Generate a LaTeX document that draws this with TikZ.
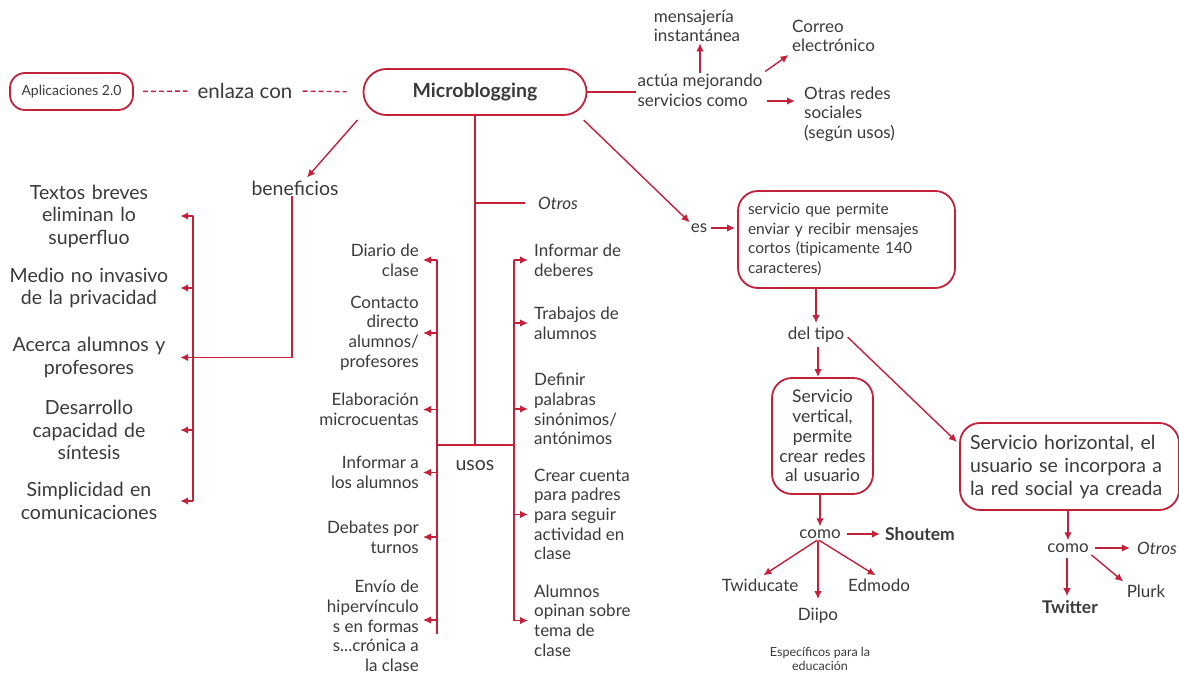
\documentclass[tikz,border=0pt]{standalone}
\usepackage{fontspec}
\setmainfont{Lato}
\usetikzlibrary{arrows.meta, positioning}
\definecolor{mbred}{HTML}{C4203A}
\definecolor{mbtext}{HTML}{3A3A3A}

\tikzset{
    every node/.style={text=mbtext, inner sep=1pt},
    bigtxt/.style={font=\fontsize{19.5}{22.5}\selectfont, align=center},
    midtxt/.style={font=\fontsize{17}{19.7}\selectfont},
    boxtxt/.style={font=\fontsize{15.5}{19.7}\selectfont},
    box/.style={draw=mbred, line width=1.8pt, rounded corners=20pt},
    link/.style={draw=mbred, line width=1.4pt},
    arr/.style={link, -{Latex[length=8pt,width=7.5pt]}},
    dashlink/.style={link, dash pattern=on 5pt off 3pt},
}

\begin{document}
\begin{tikzpicture}[x=1pt, y=-1pt]
    \useasboundingbox (0,0) rectangle (1179,674);

    % top row
    \node[box, rounded corners=15pt, minimum width=123pt, minimum height=37pt,
          font=\fontsize{14}{16}\selectfont] (apl) at (71.5,91.5) {Aplicaciones 2.0};
    \node[bigtxt, font=\fontsize{20.5}{22.5}\selectfont] (enl) at (245,91) {enlaza con};
    \node[box, rounded corners=23pt, minimum width=223pt, minimum height=46pt,
          font=\bfseries\fontsize{19.5}{20}\selectfont] (mb) at (475,92) {Microblogging};
    \node[midtxt, align=left] (act) at (700,90) {actúa mejorando\\servicios como};
    \node[midtxt, align=left] (mens) at (697,26) {mensajería\\instantánea};
    \node[midtxt, align=left, anchor=west] (cor) at (791,36) {Correo\\electrónico};
    \node[midtxt, align=left, anchor=west] (otr) at (803,114) {Otras redes\\sociales\\(según usos)};

    \path[dashlink] (apl.east) edge[shorten <=9pt, shorten >=9pt] (enl.west)
                    (enl.east) edge[shorten <=9pt, shorten >=16pt] (mb.west);
    \draw[link] (mb.east) -- (mb.east -| act.west);
    \draw[arr] (act.north) -- (act.north |- mens.south);
    \draw[arr, shorten <=2pt, shorten >=3pt] (act.north east) -- (cor.south west);
    \draw[arr, shorten <=3pt, shorten >=8pt] ([yshift=-11pt]act.east) -- ([yshift=-11pt]act.east -| otr.west);

    % beneficios
    \node[bigtxt] (ben) at (295,188) {beneficios};
    \coordinate (bsp) at (193,0);
    \node[bigtxt, text width=170pt, inner sep=0pt] (tb)   at (89,216)   {Textos breves\\eliminan lo\\superfluo};
    \node[bigtxt, text width=170pt, inner sep=0pt] (med)  at (89,288)   {Medio no invasivo\\de la privacidad};
    \node[bigtxt, text width=170pt, inner sep=0pt] (acer) at (89,357.5) {Acerca alumnos y\\profesores};
    \node[bigtxt, text width=170pt, inner sep=0pt] (des)  at (89,430)   {Desarrollo\\capacidad de\\síntesis};
    \node[bigtxt, text width=170pt, inner sep=0pt] (simp) at (89,501)   {Simplicidad en\\comunicaciones};

    \draw[arr] ([xshift=-5pt,yshift=-4pt]mb.south west) -- ([xshift=12pt,yshift=2pt]ben.north);
    \draw[link] ([xshift=-3pt]ben.south) |- (acer.east -| bsp);
    \draw[link] (bsp |- tb.east) -- (bsp |- simp.east);
    \foreach \n in {tb, med, acer, des, simp}
        \draw[arr, shorten >=6pt] (\n.east -| bsp) -- (\n.east);

    % usos
    \coordinate (uj) at (475,445);
    \coordinate (lsp) at (437,0);
    \coordinate (rsp) at (514,0);
    \node[bigtxt] (usos) at (475,466) {usos};
    \node[midtxt, font=\itshape\fontsize{17}{19.7}\selectfont] (otros) at (558,203) {Otros};
    \draw[link] (mb.south) -- (uj);
    \draw[link] (mb.south |- otros.west) -- ([xshift=-12pt]otros.west);
    \draw[link] (uj -| lsp) -- (uj -| rsp);

    \node[midtxt, align=right, anchor=east] (dia) at (420,260)   {Diario de\\clase};
    \node[midtxt, align=right, anchor=east] (con) at (420,333)   {Contacto\\directo\\alumnos/\\profesores};
    \node[midtxt, align=right, anchor=east] (ela) at (420,409.5) {Elaboración\\microcuentas};
    \node[midtxt, align=right, anchor=east] (inf) at (420,472.5) {Informar a\\los alumnos};
    \node[midtxt, align=right, anchor=east] (deb) at (420,537)   {Debates por\\turnos};
    \node[midtxt, align=right, anchor=east] (env) at (420,626)   {Envío de\\hipervínculo\\s en formas\\s...crónica a\\la clase};

    \node[midtxt, align=left, anchor=west] (ide) at (533,260)   {Informar de\\deberes};
    \node[midtxt, align=left, anchor=west] (tra) at (533,323)   {Trabajos de\\alumnos};
    \node[midtxt, align=left, anchor=west] (def) at (533,409)   {Definir\\palabras\\sinónimos/\\antónimos};
    \node[midtxt, align=left, anchor=west] (cre) at (533,514.5) {Crear cuenta\\para padres\\para seguir\\actividad en\\clase};
    \node[midtxt, align=left, anchor=west] (alu) at (533,620.5) {Alumnos\\opinan sobre\\tema de\\clase};

    \draw[link] (lsp |- dia.east) -- ([yshift=-8pt]lsp |- env.east);
    \draw[link] (rsp |- ide.west) -- (rsp |- alu.west);
    \foreach \n in {dia, con, ela, inf, deb}
        \draw[arr, shorten >=3pt] (\n.east -| lsp) -- (\n.east);
    \draw[arr, shorten >=3pt] ([yshift=6pt]env.east -| lsp) -- ([yshift=6pt]env.east);
    \foreach \n in {ide, tra, def, cre, alu}
        \draw[arr, shorten >=5pt] (\n.west -| rsp) -- (\n.west);

    % es
    \node[midtxt] (es) at (699,228) {es};
    \node[box, boxtxt, align=left, text width=197pt, inner xsep=10pt, minimum height=97pt]
        (serv) at (846.5,239.5) {servicio que permite\\enviar y recibir mensajes\\cortos (tipicamente 140\\caracteres)};
    \node[midtxt] (tipo) at (816,335) {del tipo};
    \node[box, font=\fontsize{17.5}{19.7}\selectfont, align=center, text width=92pt, inner xsep=4.5pt, minimum height=116pt]
        (vert) at (822.5,436) {Servicio\\vertical,\\permite\\crear redes\\al usuario};
    \node[box, font=\fontsize{19.5}{23}\selectfont, align=left, text width=199pt, inner xsep=10pt, minimum height=87pt]
        (hori) at (1069.5,466.5) {Servicio horizontal, el\\usuario se incorpora a\\la red social ya creada};

    \draw[arr, shorten <=6pt] ([xshift=-8pt]mb.south east) -- (es.north west);
    \draw[arr, shorten <=3pt, shorten >=2pt] (es.east) -- (es.east -| serv.west);
    \draw[arr, shorten >=3pt] (tipo.north |- serv.south) -- (tipo.north);
    \draw[arr, shorten <=3pt] ([xshift=2pt]tipo.south) -- ([xshift=2pt]tipo.south |- vert.north);
    \draw[arr, shorten <=3pt, shorten >=3pt] (tipo.east) -- ([yshift=-22pt]hori.north west);

    % vertical
    \node[midtxt] (como) at (820,534) {como};
    \node[midtxt, font=\bfseries\fontsize{17.5}{19.7}\selectfont] (shou) at (920,534) {Shoutem};
    \node[midtxt] (twid) at (760,585) {Twiducate};
    \node[midtxt] (diip) at (818,616) {Diipo};
    \node[midtxt] (edmo) at (879,585) {Edmodo};
    \node[font=\fontsize{12.5}{14}\selectfont, align=center] (espe) at (820,659) {Específicos para la\\educación};

    \draw[arr, shorten >=2pt] (como.north |- vert.south) -- (como.north);
    \draw[arr, shorten <=5pt, shorten >=4pt] (como.east) -- (shou.west);
    \draw[arr, shorten <=1pt, shorten >=4pt] ([xshift=-2pt]como.south) -- (twid.north);
    \draw[arr, shorten <=1pt, shorten >=8pt] ([xshift=-2pt]como.south) -- ([xshift=-2pt]como.south |- diip.north);
    \draw[arr, shorten <=1pt, shorten >=4pt] ([xshift=-2pt]como.south) -- (edmo.north);

    % horizontal
    \node[midtxt] (comb) at (1068,548) {como};
    \node[midtxt, font=\itshape\fontsize{17}{19.7}\selectfont] (otrb) at (1157,548) {Otros};
    \node[midtxt, font=\bfseries\fontsize{17.5}{19.7}\selectfont] (twit) at (1070,607) {Twitter};
    \node[midtxt] (plur) at (1146,591) {Plurk};

    \draw[arr, shorten >=2pt] (comb.north |- hori.south) -- (comb.north);
    \draw[arr, shorten <=5pt, shorten >=6pt] (comb.east) -- (otrb.west);
    \draw[arr, shorten <=4pt, shorten >=3pt] ([xshift=-1pt]comb.south) -- ([xshift=-1pt]comb.south |- twit.north);
    \draw[arr, shorten <=2pt, shorten >=3pt] (comb.south east) -- (plur.north west);
\end{tikzpicture}
\end{document}
